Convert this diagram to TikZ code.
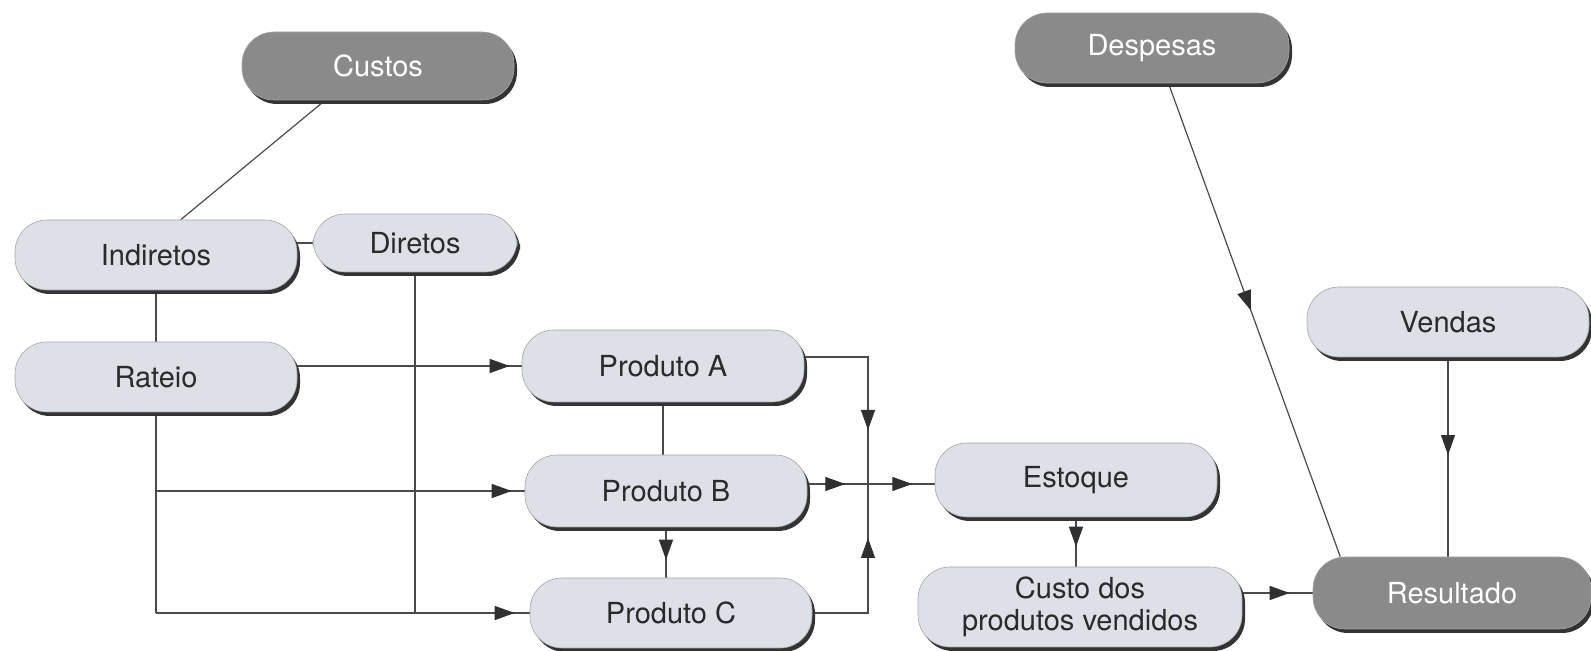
\documentclass[tikz,border=0pt]{standalone}
\usepackage{fontspec}
\setmainfont{TeX Gyre Heros}
\usetikzlibrary{arrows.meta,decorations.markings,shadows,backgrounds}

\definecolor{boxlight}{HTML}{DDE0E6}
\definecolor{boxdark}{HTML}{8A8A8A}
\definecolor{boxshadow}{HTML}{333333}
\definecolor{linecol}{HTML}{4A4A4A}
\definecolor{txtdark}{HTML}{2A2A2A}
\definecolor{tipcol}{HTML}{303030}

\tikzset{
  capsule/.style={rectangle, rounded corners=16pt, inner sep=2pt, align=center,
    font=\fontsize{14.5}{16}\selectfont,
    general shadow={fill=boxshadow, shadow xshift=1.5pt, shadow yshift=-2pt},
    draw=gray!70, line width=0.3pt},
  lite/.style={capsule, fill=boxlight, text=txtdark},
  dark/.style={capsule, fill=boxdark, text=white},
  conn/.style={draw=linecol, line width=0.6pt},
  tipshape/.style={},
  tipat/.style={postaction={decorate}, decoration={markings,
    mark=at position #1 with {\arrow[tipcol]{Triangle[length=10pt,width=7pt]}}}},
  tipat2/.style 2 args={postaction={decorate}, decoration={markings,
    mark=at position #1 with {\arrow[tipcol]{Triangle[length=10pt,width=7pt]}},
    mark=at position #2 with {\arrow[tipcol]{Triangle[length=10pt,width=7pt]}}}},
}

\begin{document}
\begin{tikzpicture}[x=0.5pt, y=-0.5pt]
  \useasboundingbox (0,0) rectangle (1591,651);

  % boxes
  \node[dark, minimum width=136pt, minimum height=34pt] (custos) at (378,66) {Custos};
  \node[dark, minimum width=137pt, minimum height=35pt] (desp) at (1152,48) {Despesas};
  \node[lite, minimum width=141pt, minimum height=35pt] (indir) at (156,255) {Indiretos};
  \node[lite, minimum width=102pt, minimum height=29pt] (dir) at (415,243) {Diretos};
  \node[lite, minimum width=141pt, minimum height=35pt] (rateio) at (156,377) {Rateio};
  \node[lite, minimum width=141pt, minimum height=36pt] (pa) at (663,366) {Produto A};
  \node[lite, minimum width=141pt, minimum height=36pt] (pb) at (666,491) {Produto B};
  \node[lite, minimum width=141pt, minimum height=35pt] (pc) at (671,613) {Produto C};
  \node[lite, minimum width=141pt, minimum height=37pt] (est) at (1076,480) {Estoque};
  \node[lite, minimum width=162pt, minimum height=40pt] (cpv) at (1080,607) {Custo dos\\produtos vendidos};
  \node[lite, minimum width=141pt, minimum height=35pt] (vendas) at (1448,322) {Vendas};
  \node[dark, minimum width=139pt, minimum height=36pt] (res) at (1452,593) {Resultado};

  % junction where the product flows meet
  \coordinate (j) at (868,484);

  \begin{pgfonlayer}{background}
    \draw[conn] (custos.213) -- (indir.55);
    \draw[conn] (dir.west) -- (dir.west -| indir.east);
    \draw[conn] (indir.south) -- (rateio.north);
    \draw[conn] (dir.south) -- (dir.south |- pc.west);
    \draw[conn] (rateio.south) -- (rateio.south |- pc.west);
    \draw[conn, tipat=-6pt] (pa.west -| rateio.east) -- (pa.west);
    \draw[conn, tipat=-6.5pt] (rateio.south |- pb.west) -- (pb.west);
    \draw[conn, tipat=-7.5pt] (rateio.south |- pc.west) -- (pc.west);
    \draw[conn] (pa.south) -- (pa.south |- pb.north);
    \draw[conn, tipat=-9pt] (pb.south) -- (pb.south |- pc.north);
    \draw[conn, tipat=-27pt] ([yshift=4.5pt]pa.east) -| (j);
    \draw[conn, tipat=-27pt] (pc.east) -| (j);
    \draw[conn, tipat2={19pt}{52.5pt}] (pb.east |- j) -- (est.west |- j);
    \draw[conn, tipat=-10pt] (est.south) -- (est.south |- cpv.north);
    \draw[conn, tipat=-11.5pt] (cpv.east |- res.west) -- (res.west);
    \draw[conn, tipat=0.49] (vendas.south) -- (vendas.south |- res.north);
    \draw[conn, tipat=0.48] (desp.-65) -- (res.162);
  \end{pgfonlayer}
\end{tikzpicture}
\end{document}
